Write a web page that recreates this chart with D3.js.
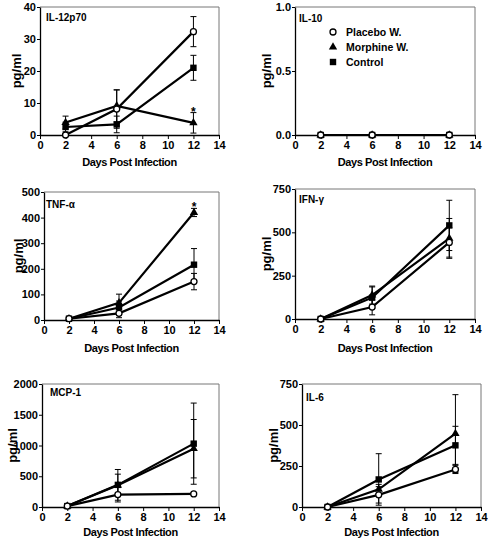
<!DOCTYPE html>
<html>
<head>
<meta charset="utf-8">
<script src="https://cdn.jsdelivr.net/npm/d3@7"></script>
<style>
  html, body { margin: 0; padding: 0; background: #fff; }
  svg { display: block; }
  text { font-family: "Liberation Sans", Arial, Helvetica, sans-serif; font-weight: bold; fill: #000; }
</style>
</head>
<body>
<svg id="chart" width="488" height="538"></svg>
<script>
// ---------------- DATA ----------------
const days = [2, 6, 12];
const seriesNames = ["Placebo W.", "Morphine W.", "Control"];
const panelNames = ["IL-12p70", "IL-10", "TNF-\u03b1", "IFN-\u03b3", "MCP-1", "IL-6"];
const yMax = [40, 1, 500, 750, 2000, 750];
const yTicks = [
  [0, 10, 20, 30, 40],
  [0, 0.5, 1.0],
  [0, 100, 200, 300, 400, 500],
  [0, 250, 500, 750],
  [0, 500, 1000, 1500, 2000],
  [0, 250, 500, 750]
];
const xTicks = [0, 2, 4, 6, 8, 10, 12, 14];
const xTitle = "Days Post Infection";
const yTitle = "pg/ml";

// per panel: values at days 2, 6, 12
const placeboMean = [[0, 8.1, 32.3], [0, 0, 0], [5, 26, 150], [0, 69, 442], [15, 202, 212], [0, 74, 229]];
const placeboSem  = [[0.5, 6, 4.7], [0, 0, 0], [2, 17, 32], [3, 45, 85], [5, 120, 15], [3, 50, 25]];
const morphineMean = [[3.9, 9.1, 3.8], [0, 0, 0], [5, 67, 420], [0, 138, 465], [15, 354, 948], [0, 108, 448]];
const morphineSem  = [[2, 5, 3.2], [0, 0, 0], [2, 34, 16], [3, 52, 115], [5, 180, 475], [3, 30, 237]];
const controlMean = [[2.5, 3.3, 21], [0, 0, 0], [5, 49, 216], [0, 123, 540], [15, 360, 1030], [0, 168, 376]];
const controlSem  = [[1.5, 2.6, 3.9], [0, 0, 0], [2, 25, 63], [3, 62, 145], [5, 250, 660], [3, 157, 116]];

// significance marks: [panel index, series index, day index]
const asterisks = [[0, 1, 2], [2, 1, 2]];

// ---------------- LAYOUT ----------------
const layout = [
  { x0: 40,  x1: 219, y0: 7,   y1: 135, ylabX: 21,  tx: 46,  ty: 20.5, xt: 30.5, fmt: d3.format("d") },
  { x0: 295, x1: 475, y0: 7,   y1: 135, ylabX: 271, tx: 299, ty: 21.5, xt: 31,   fmt: d3.format(".1f") },
  { x0: 44,  x1: 219, y0: 192, y1: 320, ylabX: 23,  tx: 46,  ty: 207.5, xt: 31.5, fmt: d3.format("d") },
  { x0: 295, x1: 475, y0: 189, y1: 319, ylabX: 271, tx: 299, ty: 203,  xt: 32.5, fmt: d3.format("d") },
  { x0: 42,  x1: 219, y0: 384, y1: 507, ylabX: 17,  tx: 50,  ty: 396,  xt: 29,  fmt: d3.format("d") },
  { x0: 302, x1: 481, y0: 384, y1: 507, ylabX: 278, tx: 306, ty: 401,  xt: 29,   fmt: d3.format("d") }
];

const svg = d3.select("#chart");
const means = [placeboMean, morphineMean, controlMean];
const sems = [placeboSem, morphineSem, controlSem];

function drawMarker(g, type, cx, cy) {
  if (type === 0) {
    g.append("circle").attr("cx", cx).attr("cy", cy).attr("r", 3)
      .attr("fill", "#fff").attr("stroke", "#000").attr("stroke-width", 1.3);
  } else if (type === 1) {
    g.append("path").attr("d", d3.symbol(d3.symbolTriangle, 30)())
      .attr("transform", `translate(${cx},${cy})`).attr("fill", "#000");
  } else {
    g.append("rect").attr("x", cx - 3.2).attr("y", cy - 3.2).attr("width", 6.4).attr("height", 6.4)
      .attr("fill", "#000");
  }
}

panelNames.forEach((name, i) => {
  const L = layout[i];
  const g = svg.append("g");
  const x = d3.scaleLinear().domain([0, 14]).range([L.x0, L.x1]);
  const y = d3.scaleLinear().domain([0, yMax[i]]).range([L.y1, L.y0]);

  // frame (top and right)
  g.append("path")
    .attr("d", `M${L.x0},${L.y0}H${L.x1}V${L.y1}`)
    .attr("fill", "none").attr("stroke", "#777").attr("stroke-width", 1);

  // axes
  const xa = g.append("g").attr("transform", `translate(0,${L.y1})`)
    .call(d3.axisBottom(x).tickValues(xTicks).tickSize(4).tickSizeOuter(0).tickPadding(2).tickFormat(d3.format("d")));
  const ya = g.append("g").attr("transform", `translate(${L.x0},0)`)
    .call(d3.axisLeft(y).tickValues(yTicks[i]).tickSize(3).tickSizeOuter(0).tickPadding(1).tickFormat(L.fmt));
  [xa, ya].forEach(a => {
    a.select(".domain").attr("stroke", "#000").attr("stroke-width", 1.3);
    a.selectAll(".tick line").attr("stroke", "#000").attr("stroke-width", 1);
    a.selectAll(".tick text").style("font-size", "11px").style("font-family", '"Liberation Sans", Arial, sans-serif')
      .style("font-weight", "bold").attr("fill", "#000");
  });

  // axis titles
  g.append("text").attr("x", (L.x0 + L.x1) / 2).attr("y", L.y1 + L.xt)
    .attr("text-anchor", "middle").style("font-size", "11px").style("letter-spacing", "-0.4px")
    .text(xTitle);
  g.append("text").attr("transform", `translate(${L.ylabX},${(L.y0 + L.y1) / 2}) rotate(-90)`)
    .attr("text-anchor", "middle").style("font-size", "13px")
    .text(yTitle);

  // panel title
  g.append("text").attr("x", L.tx).attr("y", L.ty).style("font-size", "10px").text(name);

  // lines
  const line = d3.line().x((d, k) => x(days[k])).y(d => y(d));
  [2, 1, 0].forEach(s => {
    g.append("path").attr("d", line(means[s][i]))
      .attr("fill", "none").attr("stroke", "#000").attr("stroke-width", 2.2);
  });

  // error bars
  [2, 1, 0].forEach(s => {
    means[s][i].forEach((m, k) => {
      const e = sems[s][i][k];
      if (!e) return;
      const cx = x(days[k]);
      const top = y(Math.min(yMax[i], m + e));
      const bot = y(Math.max(0, m - e));
      g.append("path")
        .attr("d", `M${cx},${top}V${bot}M${cx - 3},${top}H${cx + 3}M${cx - 3},${bot}H${cx + 3}`)
        .attr("fill", "none").attr("stroke", "#000").attr("stroke-width", 1);
    });
  });

  // markers
  [2, 1, 0].forEach(s => {
    means[s][i].forEach((m, k) => drawMarker(g, s, x(days[k]), y(m)));
  });

  // asterisks
  asterisks.filter(a => a[0] === i).forEach(([p, s, k]) => {
    const top = y(means[s][p][k] + sems[s][p][k]);
    g.append("text").attr("x", x(days[k])).attr("y", top + 3)
      .attr("text-anchor", "middle").style("font-size", "12px").text("*");
  });

  // legend in IL-10 panel
  if (i === 1) {
    seriesNames.forEach((sn, s) => {
      const ly = 32 + s * 15;
      drawMarker(g, s, 333, ly);
      g.append("text").attr("x", 346).attr("y", ly + 4).style("font-size", "10.5px").text(sn);
    });
  }
});
</script>
</body>
</html>
